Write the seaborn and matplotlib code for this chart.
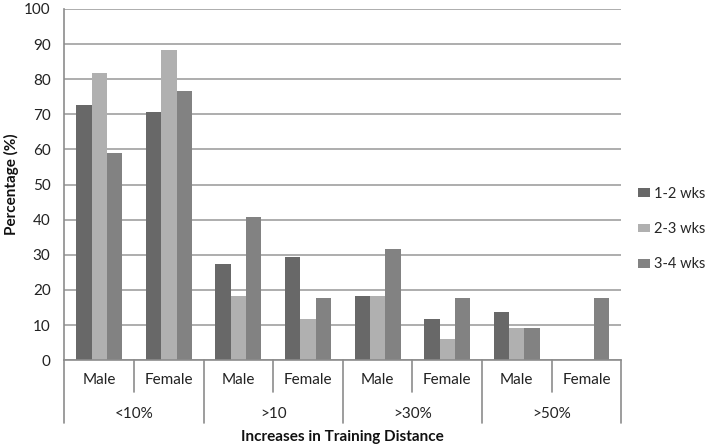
import matplotlib
matplotlib.use("Agg")
import matplotlib.pyplot as plt
import matplotlib.transforms as mtransforms
from matplotlib.lines import Line2D
import seaborn as sns
import pandas as pd

groups = ["<10%", ">10", ">30%", ">50%"]
sexes = ["Male", "Female"]
series = ["1-2 wks", "2-3 wks", "3-4 wks"]
v_12 = [72.7, 70.6, 27.3, 29.4, 18.2, 11.8, 13.6, 0.0]
v_23 = [81.8, 88.2, 18.2, 11.8, 18.2, 5.9, 9.1, 0.0]
v_34 = [59.1, 76.5, 40.9, 17.6, 31.8, 17.6, 9.1, 17.6]
colors = ["#686868", "#b0b0b0", "#828282"]

sub_keys = [f"{g}|{s}" for g in groups for s in sexes]
rows = []
for name, vals in zip(series, [v_12, v_23, v_34]):
    for k, v in zip(sub_keys, vals):
        rows.append({"sub": k, "period": name, "value": v})
df = pd.DataFrame(rows)

sns.set_style("white")
plt.rcParams["font.family"] = ["Lato", "DejaVu Sans"]
FS = 11

fig = plt.figure(figsize=(7.14, 4.48), dpi=100)
ax = fig.add_axes([0.0903, 0.196, 0.870 - 0.0903, 0.980 - 0.196])

sns.barplot(data=df, x="sub", y="value", hue="period", order=sub_keys,
            hue_order=series, palette=colors, width=0.66, saturation=1,
            ax=ax, legend=True, linewidth=0)

ax.set_ylim(0, 100)
ax.set_xlim(-0.5, len(sub_keys) - 0.5)
ax.set_yticks(range(0, 101, 10))
ax.yaxis.grid(True, color="#a0a0a0", linewidth=1.2)
ax.set_axisbelow(True)
for sp in ["top", "right"]:
    ax.spines[sp].set_visible(False)
ax.spines["left"].set_color("#8c8c8c")
ax.spines["bottom"].set_color("#8c8c8c")
ax.spines["left"].set_linewidth(1.2)
ax.spines["bottom"].set_linewidth(1.2)
ax.tick_params(axis="y", direction="out", length=4, color="#8c8c8c",
               labelsize=FS, labelcolor="#222222", pad=6)
ax.tick_params(axis="x", length=0, labelsize=FS, labelcolor="#222222", pad=9)
ax.set_xticks(range(len(sub_keys)))
ax.set_xticklabels([k.split("|")[1] for k in sub_keys])

ax.set_xlabel("Increases in Training Distance", fontsize=FS,
              fontweight="bold", color="#111111")
ax.xaxis.set_label_coords(0.5, -0.2)
ax.set_ylabel("Percentage (%)", fontsize=FS, fontweight="bold",
              color="#111111")
ax.yaxis.set_label_coords(-0.082, 0.5)

trans = mtransforms.blended_transform_factory(ax.transData, ax.transAxes)
for i in range(len(sub_keys) + 1):
    xpos = i - 0.5
    bottom = -0.18 if i % 2 == 0 else -0.091
    ax.add_line(Line2D([xpos, xpos], [0, bottom], transform=trans,
                       color="#8c8c8c", linewidth=1.2, clip_on=False))
for gi, g in enumerate(groups):
    ax.text(gi * 2 + 0.5, -0.152, g, transform=trans, ha="center",
            va="center", fontsize=FS, color="#222222")

handles, labels = ax.get_legend_handles_labels()
ax.legend(handles, labels, loc="center left", bbox_to_anchor=(1.03, 0.373),
          frameon=False, fontsize=10.5, handlelength=0.8, handleheight=0.55,
          labelspacing=1.45, handletextpad=0.3, borderpad=0, borderaxespad=0)

fig.savefig("out.png", dpi=100)
